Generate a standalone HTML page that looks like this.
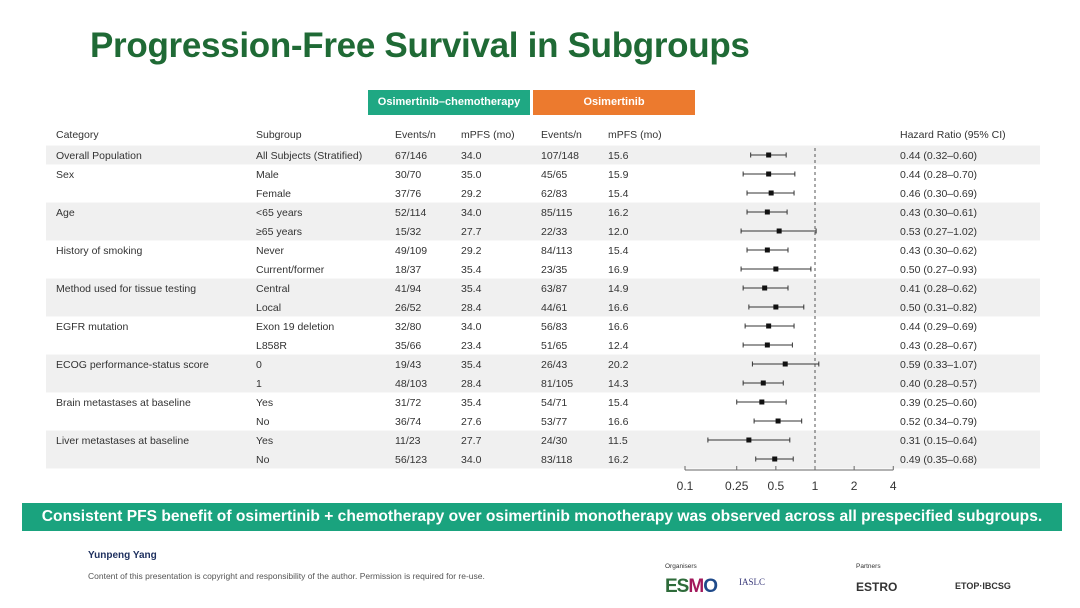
<!DOCTYPE html>
<html><head><meta charset="utf-8"><style>
body{margin:0;width:1080px;height:608px;background:#fff;font-family:"Liberation Sans",sans-serif;position:relative;overflow:hidden}
.t{position:absolute;white-space:nowrap}
</style></head><body>
<div class="t" style="left:90px;top:26px;font-size:35px;font-weight:bold;color:#1f6a35;letter-spacing:-0.3px">Progression-Free Survival in Subgroups</div>
<div class="t" style="left:368px;top:90px;width:162px;height:25px;background:#1fa883;color:#fff;font-size:11px;font-weight:bold;text-align:center;line-height:25px">Osimertinib–chemotherapy</div>
<div class="t" style="left:533px;top:90px;width:162px;height:25px;background:#ec7a2e;color:#fff;font-size:11px;font-weight:bold;text-align:center;line-height:25px">Osimertinib</div>
<svg id="plot" width="1080" height="608" style="position:absolute;left:0;top:0"></svg>
<div class="t" style="left:22px;top:503px;width:1040px;height:28px;background:#1aa37e;color:#fff;font-size:15.6px;font-weight:bold;text-align:center;line-height:28px">Consistent PFS benefit of osimertinib + chemotherapy over osimertinib monotherapy was observed across all prespecified subgroups.</div>
<div class="t" style="left:88px;top:550px;font-size:10px;font-weight:bold;color:#1d2f5e">Yunpeng Yang</div>
<div class="t" style="left:88px;top:571px;font-size:8.5px;color:#555">Content of this presentation is copyright and responsibility of the author. Permission is required for re-use.</div>
<div class="t" style="left:665px;top:563px;font-size:6.5px;color:#333">Organisers</div>
<div class="t" style="left:665px;top:576px;font-size:19px;font-weight:bold;color:#2e6b3a;letter-spacing:-1px">ES<span style="color:#a2185b">M</span><span style="color:#1f4a8a">O</span></div>
<div class="t" style="left:739px;top:577px;font-size:9px;font-family:'Liberation Serif',serif;color:#3a3a7a">IASLC</div>
<div class="t" style="left:856px;top:563px;font-size:6.5px;color:#333">Partners</div>
<div class="t" style="left:856px;top:580px;font-size:12px;font-weight:bold;color:#333">ESTRO</div>
<div class="t" style="left:955px;top:581px;font-size:9px;font-weight:bold;color:#333">ETOP·IBCSG</div>
<script>
const categories=["Overall Population","Sex","","Age","","History of smoking","","Method used for tissue testing","","EGFR mutation","","ECOG performance-status score","","Brain metastases at baseline","","Liver metastases at baseline",""];
const subgroups=["All Subjects (Stratified)","Male","Female","<65  years","≥65  years","Never","Current/former","Central","Local","Exon 19 deletion","L858R","0","1","Yes","No","Yes","No"];
const evChemo=["67/146","30/70","37/76","52/114","15/32","49/109","18/37","41/94","26/52","32/80","35/66","19/43","48/103","31/72","36/74","11/23","56/123"];
const pfsChemo=["34.0","35.0","29.2","34.0","27.7","29.2","35.4","35.4","28.4","34.0","23.4","35.4","28.4","35.4","27.6","27.7","34.0"];
const evOsi=["107/148","45/65","62/83","85/115","22/33","84/113","23/35","63/87","44/61","56/83","51/65","26/43","81/105","54/71","53/77","24/30","83/118"];
const pfsOsi=["15.6","15.9","15.4","16.2","12.0","15.4","16.9","14.9","16.6","16.6","12.4","20.2","14.3","15.4","16.6","11.5","16.2"];
const hr=[0.44,0.44,0.46,0.43,0.53,0.43,0.50,0.41,0.50,0.44,0.43,0.59,0.40,0.39,0.52,0.31,0.49];
const lo=[0.32,0.28,0.30,0.30,0.27,0.30,0.27,0.28,0.31,0.29,0.28,0.33,0.28,0.25,0.34,0.15,0.35];
const hi=[0.60,0.70,0.69,0.61,1.02,0.62,0.93,0.62,0.82,0.69,0.67,1.07,0.57,0.60,0.79,0.64,0.68];
const shaded=[1,0,0,1,1,0,0,1,1,0,0,1,1,0,0,1,1];
const ticks=[0.1,0.25,0.5,1,2,4];
const tickLabels=["0.1","0.25","0.5","1","2","4"];
const svg=document.getElementById('plot');const NS="http://www.w3.org/2000/svg";
const xs=v=>685+Math.log10(v/0.1)*130;
const ys=i=>155+i*19;
function mk(tag,a,txt){const e=document.createElementNS(NS,tag);for(const k in a)e.setAttribute(k,a[k]);if(txt!==undefined)e.textContent=txt;svg.appendChild(e);return e;}
const hdr=[["Category",56],["Subgroup",256],["Events/n",395],["mPFS (mo)",461],["Events/n",541],["mPFS (mo)",608],["Hazard Ratio (95% CI)",900]];
hdr.forEach(h=>{const e=mk('text',{x:h[1],y:138,'font-size':10.5,fill:'#333'},h[0]);

});
subgroups.forEach((s,i)=>{
 if(shaded[i]){const r=mk('rect',{x:46,y:ys(i)-9.5,width:994,height:19,fill:'#f0f0f0'});
 
 }
});
mk('line',{x1:xs(1),x2:xs(1),y1:148,y2:466,stroke:'#555','stroke-dasharray':'3,3','stroke-width':1});
subgroups.forEach((s,i)=>{
 const y=ys(i)+4;
 const cols=[[categories[i],56],[s,256],[evChemo[i],395],[pfsChemo[i],461],[evOsi[i],541],[pfsOsi[i],608],[hr[i].toFixed(2)+" ("+lo[i].toFixed(2)+"–"+hi[i].toFixed(2)+")",900]];
 cols.forEach(c=>{if(c[0]){const t=mk('text',{x:c[1],y:y,'font-size':10.5,fill:'#333'},c[0]);
 
 }});
 const yc=ys(i);
 const l=mk('line',{x1:xs(lo[i]),x2:xs(hi[i]),y1:yc,y2:yc,stroke:'#333','stroke-width':1});
 
 
 mk('line',{x1:xs(lo[i]),x2:xs(lo[i]),y1:yc-2.5,y2:yc+2.5,stroke:'#333'});
 mk('line',{x1:xs(hi[i]),x2:xs(hi[i]),y1:yc-2.5,y2:yc+2.5,stroke:'#333'});
 const p=mk('rect',{x:xs(hr[i])-2.5,y:yc-2.5,width:5,height:5,fill:'#111'});
 
 
});
mk('line',{x1:xs(0.1),x2:xs(4),y1:470,y2:470,stroke:'#666'});
ticks.forEach((t,k)=>{mk('line',{x1:xs(t),x2:xs(t),y1:466,y2:470,stroke:'#666'});
 const e=mk('text',{x:xs(t),y:490,'font-size':12,fill:'#333','text-anchor':'middle'},tickLabels[k]);
 
 });
</script>
</body></html>
